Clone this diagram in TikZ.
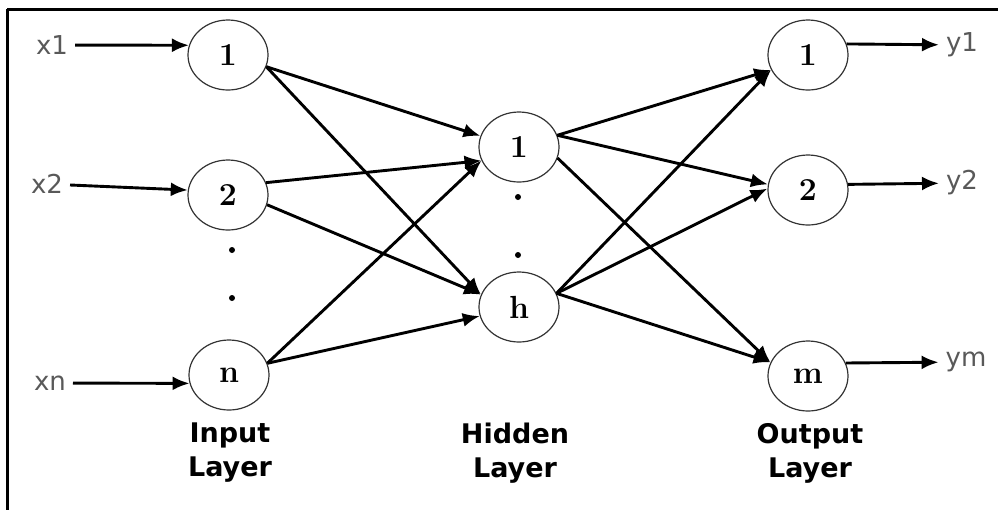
\documentclass[tikz,border=0pt]{standalone}
\usepackage{fontspec}
\setsansfont{DejaVu Sans}
\usepackage{tikz}
\usetikzlibrary{shapes.geometric,arrows.meta}

\tikzset{
    neuron/.style={ellipse, draw=black!80, line width=0.6pt, minimum width=40pt, minimum height=35pt, inner sep=0pt, font=\fontsize{16}{18}\selectfont\bfseries},
    wire/.style={line width=1.45pt, -{Latex[length=8.5pt,width=7pt]}},
    sig/.style={font=\sffamily\fontsize{13}{15}\selectfont, text=black!65},
    layer/.style={font=\sffamily\bfseries\fontsize{13.5}{17}\selectfont, align=center}
}

\begin{document}
\begin{tikzpicture}[x=0.5pt, y=-0.5pt]
    \useasboundingbox (0,0) rectangle (998,510);

    % Frame
    \draw[line width=1.5pt] (7,9) -- (998,9);
    \draw[line width=1.5pt] (7,9) -- (7,510);

    % Input layer
    \node[neuron] (in1) at (228,55) {1};
    \node[neuron] (in2) at (228,195) {2};
    \node[neuron] (inn) at (229,375) {n};
    \fill (232,250) circle (1.5pt);
    \fill (232,298) circle (1.5pt);

    % Hidden layer
    \node[neuron] (hid1) at (519,147) {1};
    \node[neuron] (hidh) at (519,307) {h};
    \fill (518,197) circle (1.5pt);
    \fill (518,255) circle (1.5pt);

    % Output layer
    \node[neuron] (out1) at (808,55) {1};
    \node[neuron] (out2) at (808,190) {2};
    \node[neuron] (outm) at (808,376) {m};

    % Inputs and outputs
    \node[sig] (x1) at (52,45) {x1};
    \node[sig] (x2) at (47,184) {x2};
    \node[sig] (xn) at (50,383) {xn};
    \node[sig] (y1) at (962,45) {y1};
    \node[sig] (y2) at (962,183) {y2};
    \node[sig] (ym) at (966,362) {ym};

    \draw[wire] (x1) -- (in1.166);
    \draw[wire] (x2) -- (in2.173);
    \draw[wire] (xn) -- (inn.-168);
    \draw[wire] (out1.16) -- (y1);
    \draw[wire] (out2.8) -- (y2);
    \draw[wire] (outm.19) -- (ym);

    % Input -> hidden
    \draw[wire] (in1.-17) -- (hid1.164);
    \draw[wire] (in1.-17) -- (hidh.162);
    \draw[wire] (in2.18) -- (hid1.-160);
    \draw[wire] (in2.-14) -- (hidh.162);
    \draw[wire] (inn.17) -- (hid1.-160);
    \draw[wire] (inn.17) -- (hidh.-167);

    % Hidden -> output
    \draw[wire] (hid1.17) -- (out1.-158);
    \draw[wire] (hid1.17) -- (out2.172);
    \draw[wire] (hid1.-16) -- (outm.160);
    \draw[wire] (hidh.20) -- (out1.-158);
    \draw[wire] (hidh.20) -- (out2.178);
    \draw[wire] (hidh.20) -- (outm.160);

    % Layer names
    \node[layer] (inlbl) at (230,453) {Input\\Layer};
    \node[layer] (hidlbl) at (515,453) {Hidden\\Layer};
    \node[layer] (outlbl) at (810,453) {Output\\Layer};
\end{tikzpicture}
\end{document}
